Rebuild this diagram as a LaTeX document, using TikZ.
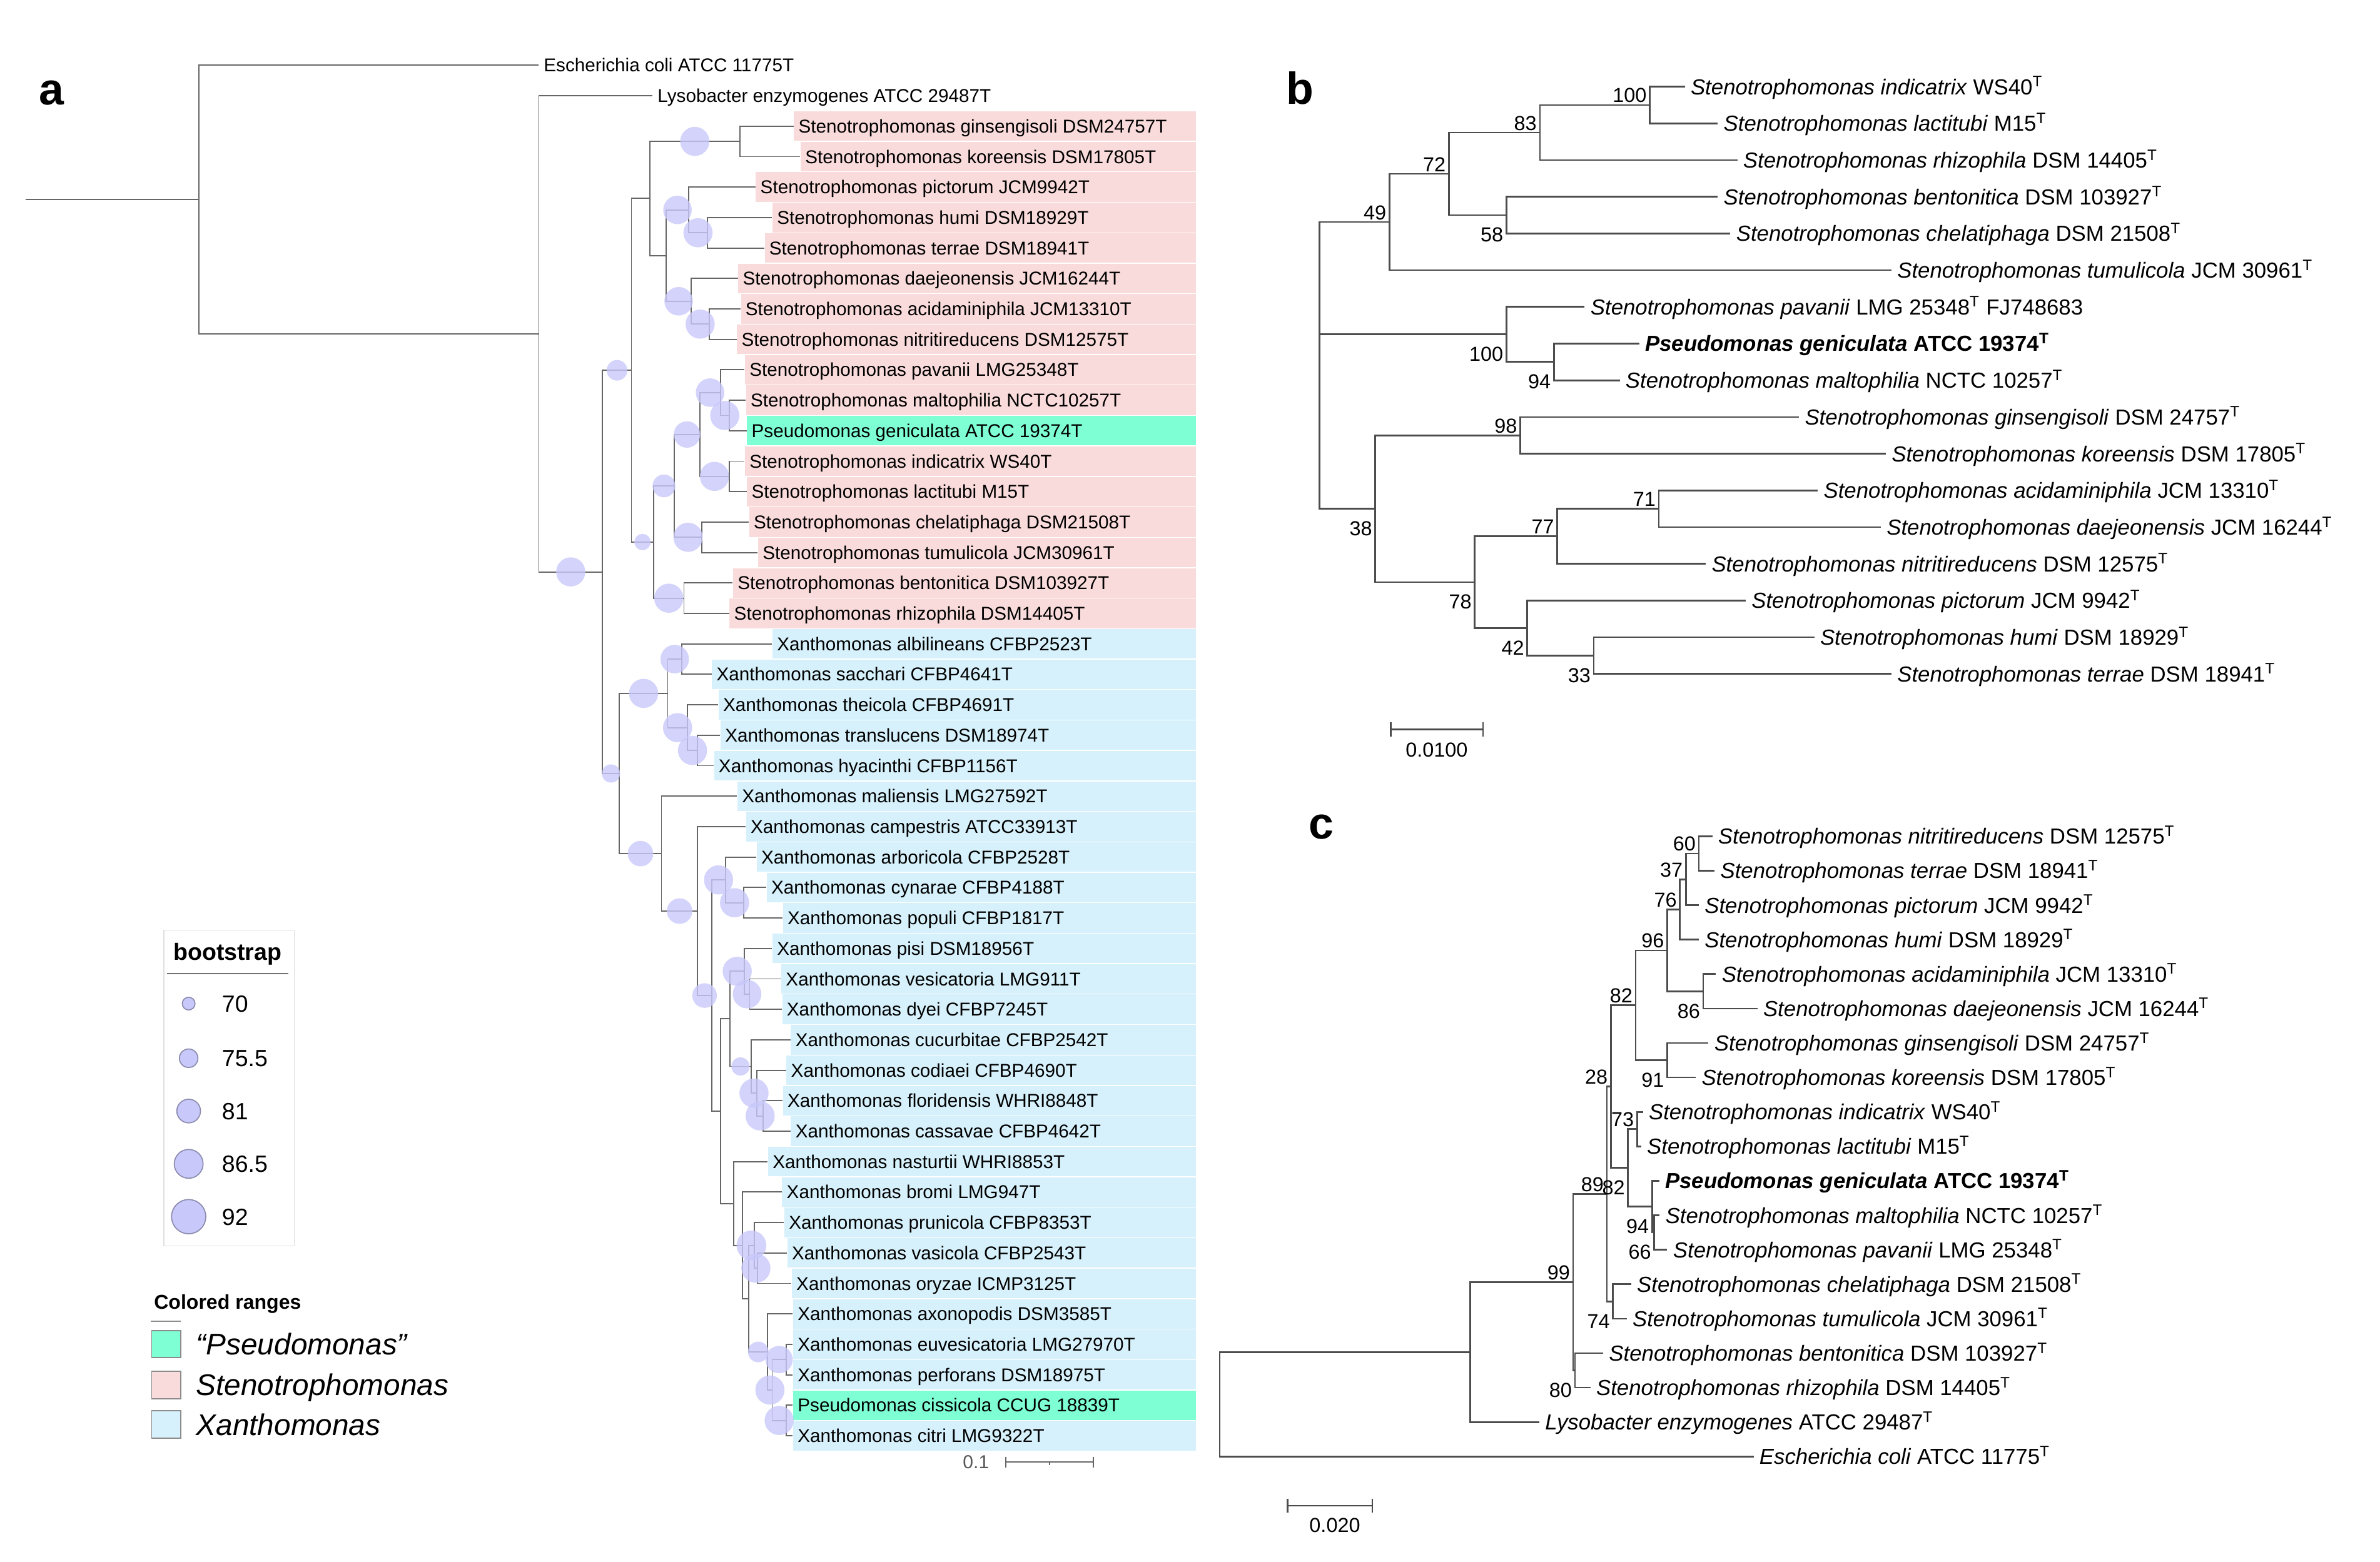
\documentclass[tikz,border=0pt]{standalone}
\usepackage{fontspec}
\setmainfont{Liberation Sans}
\usepackage{tikz}
\usetikzlibrary{calc}
\definecolor{stenopink}{RGB}{250,219,219}
\definecolor{xanthoblue}{RGB}{214,241,251}
\definecolor{pseudogreen}{RGB}{127,255,212}
\definecolor{bootfill}{RGB}{200,200,250}
\definecolor{bootline}{RGB}{140,140,175}
\tikzstyle{branch} = [draw=black!60, line width=0.55pt]
\tikzstyle{branchbc} = [draw=black!70, line width=0.8pt]
\tikzstyle{taxa} = [anchor=west, inner xsep=0.75mm, inner ysep=0pt,
    text height=6.2pt, text depth=0pt, font=\fontsize{8.7}{10}\selectfont]
\tikzstyle{taxbc} = [anchor=west, inner xsep=0.9mm, inner ysep=0pt,
    text height=7.3pt, text depth=0pt, font=\fontsize{10.2}{12}\selectfont]
\tikzstyle{bsnum} = [anchor=east, inner xsep=1.3pt, inner ysep=0pt,
    text height=6.8pt, text depth=0pt, font=\fontsize{9.5}{11}\selectfont]
\tikzstyle{bsup} = [bsnum, yshift=1.6mm]
\tikzstyle{bsdn} = [bsnum, yshift=-3.2mm]
\tikzstyle{bsdot} = [fill=bootfill, fill opacity=0.8]
\tikzstyle{rangebox} = [draw=white, line width=0.4pt]
\tikzstyle{panel} = [anchor=base, inner sep=0pt, font=\bfseries\fontsize{21}{24}\selectfont]
\tikzstyle{scaletxt} = [inner sep=0pt, font=\fontsize{9.5}{11}\selectfont]
\tikzstyle{legnum} = [anchor=west, inner sep=0pt, text height=7.9pt, text depth=0pt,
    font=\fontsize{11}{13}\selectfont]
\tikzstyle{legrange} = [anchor=west, inner sep=0pt, text height=10pt, text depth=0pt,
    font=\itshape\fontsize{14}{16}\selectfont]
\newcommand{\steno}[1]{\textit{Stenotrophomonas #1}}
% leaf of tree a: name, tip x, row, range colour, label
\newcommand{\leafa}[5]{%
  \filldraw[rangebox, fill=#4] (#2,{43+20.07*#3-10.035}) rectangle (788,{43+20.07*#3+10.035});
  \node[taxa] (#1) at (#2,{43+20.07*#3}) {#5};}
\newcommand{\leafb}[4]{\node[taxbc] (#1) at (#2,{57.1+24.19*#3}) {#4};}
\newcommand{\leafc}[4]{\node[taxbc] (#1) at (#2,{551.1+22.71*#3}) {#4};}
% bootstrap dot half way along the branch parent -> child
\newcommand{\bsdot}[3]{\fill[bsdot] ($(#1 |- #2)!0.5!(#2)$) circle [radius=#3*0.25mm];}

\begin{document}
\begin{tikzpicture}[x=0.25mm, y=-0.25mm]
    \useasboundingbox (0,0) rectangle (1568,1029.4);
    \node[panel] (la) at (34.1,68.9) {a};
    \node[panel] (lb) at (856.3,68.8) {b};
    \node[panel] (lc) at (870.5,552.7) {c};

    % ---------------- tree a ----------------
    % Place nodes
    \node[taxa] (aEcol) at (355,43) {Escherichia coli ATCC 11775T};
    \node[taxa] (aLyso) at (430,63.07) {Lysobacter enzymogenes ATCC 29487T};
    \leafa{aGins}{522.8}{2}{stenopink}{Stenotrophomonas ginsengisoli DSM24757T}
    \leafa{aKore}{527.2}{3}{stenopink}{Stenotrophomonas koreensis DSM17805T}
    \leafa{aPict}{497.7}{4}{stenopink}{Stenotrophomonas pictorum JCM9942T}
    \leafa{aHumi}{508.7}{5}{stenopink}{Stenotrophomonas humi DSM18929T}
    \leafa{aTerr}{503.5}{6}{stenopink}{Stenotrophomonas terrae DSM18941T}
    \leafa{aDaej}{486.1}{7}{stenopink}{Stenotrophomonas daejeonensis JCM16244T}
    \leafa{aAcid}{487.9}{8}{stenopink}{Stenotrophomonas acidaminiphila JCM13310T}
    \leafa{aNitr}{485.3}{9}{stenopink}{Stenotrophomonas nitritireducens DSM12575T}
    \leafa{aPava}{490.5}{10}{stenopink}{Stenotrophomonas pavanii LMG25348T}
    \leafa{aMalt}{491.3}{11}{stenopink}{Stenotrophomonas maltophilia NCTC10257T}
    \leafa{aGeni}{491.9}{12}{pseudogreen}{Pseudomonas geniculata ATCC 19374T}
    \leafa{aIndi}{490.5}{13}{stenopink}{Stenotrophomonas indicatrix WS40T}
    \leafa{aLact}{491.9}{14}{stenopink}{Stenotrophomonas lactitubi M15T}
    \leafa{aChel}{493.3}{15}{stenopink}{Stenotrophomonas chelatiphaga DSM21508T}
    \leafa{aTumu}{499.2}{16}{stenopink}{Stenotrophomonas tumulicola JCM30961T}
    \leafa{aBent}{482.7}{17}{stenopink}{Stenotrophomonas bentonitica DSM103927T}
    \leafa{aRhiz}{480.4}{18}{stenopink}{Stenotrophomonas rhizophila DSM14405T}
    \leafa{aAlbi}{508.7}{19}{xanthoblue}{Xanthomonas albilineans CFBP2523T}
    \leafa{aSacc}{468.8}{20}{xanthoblue}{Xanthomonas sacchari CFBP4641T}
    \leafa{aThei}{473.1}{21}{xanthoblue}{Xanthomonas theicola CFBP4691T}
    \leafa{aTran}{474.5}{22}{xanthoblue}{Xanthomonas translucens DSM18974T}
    \leafa{aHyac}{470.2}{23}{xanthoblue}{Xanthomonas hyacinthi CFBP1156T}
    \leafa{aMali}{485.6}{24}{xanthoblue}{Xanthomonas maliensis LMG27592T}
    \leafa{aCamp}{491.3}{25}{xanthoblue}{Xanthomonas campestris ATCC33913T}
    \leafa{aArbo}{498.3}{26}{xanthoblue}{Xanthomonas arboricola CFBP2528T}
    \leafa{aCyna}{504.9}{27}{xanthoblue}{Xanthomonas cynarae CFBP4188T}
    \leafa{aPopu}{515.6}{28}{xanthoblue}{Xanthomonas populi CFBP1817T}
    \leafa{aPisi}{508.7}{29}{xanthoblue}{Xanthomonas pisi DSM18956T}
    \leafa{aVesi}{514.5}{30}{xanthoblue}{Xanthomonas vesicatoria LMG911T}
    \leafa{aDyei}{515.1}{31}{xanthoblue}{Xanthomonas dyei CFBP7245T}
    \leafa{aCucu}{520.8}{32}{xanthoblue}{Xanthomonas cucurbitae CFBP2542T}
    \leafa{aCodi}{517.9}{33}{xanthoblue}{Xanthomonas codiaei CFBP4690T}
    \leafa{aFlor}{515.6}{34}{xanthoblue}{Xanthomonas floridensis WHRI8848T}
    \leafa{aCass}{520.8}{35}{xanthoblue}{Xanthomonas cassavae CFBP4642T}
    \leafa{aNast}{505.8}{36}{xanthoblue}{Xanthomonas nasturtii WHRI8853T}
    \leafa{aBrom}{515}{37}{xanthoblue}{Xanthomonas bromi LMG947T}
    \leafa{aPrun}{516.5}{38}{xanthoblue}{Xanthomonas prunicola CFBP8353T}
    \leafa{aVasi}{518.5}{39}{xanthoblue}{Xanthomonas vasicola CFBP2543T}
    \leafa{aOryz}{521.4}{40}{xanthoblue}{Xanthomonas oryzae ICMP3125T}
    \leafa{aAxon}{522.3}{41}{xanthoblue}{Xanthomonas axonopodis DSM3585T}
    \leafa{aEuve}{522.3}{42}{xanthoblue}{Xanthomonas euvesicatoria LMG27970T}
    \leafa{aPerf}{522.3}{43}{xanthoblue}{Xanthomonas perforans DSM18975T}
    \leafa{aCiss}{522.3}{44}{pseudogreen}{Pseudomonas cissicola CCUG 18839T}
    \leafa{aCitr}{522.3}{45}{xanthoblue}{Xanthomonas citri LMG9322T}
    \coordinate (aStub) at (17,131.49);
    \coordinate (aRoot) at (131,131.49);
    \coordinate (aN1) at (355,219.98);
    \coordinate (aN2) at (397,376.89);
    \coordinate (aSt) at (416,244.02);
    \coordinate (aS1) at (428,130.81);
    \coordinate (aS11) at (487.5,93.18);
    \coordinate (aS12) at (439,168.44);
    \coordinate (aS121) at (453.7,138.33);
    \coordinate (aS1211) at (466,153.39);
    \coordinate (aS122) at (455.2,198.54);
    \coordinate (aS1221) at (467.3,213.6);
    \coordinate (aS2) at (430.6,357.22);
    \coordinate (aS21) at (444.2,320.22);
    \coordinate (aS211) at (461,286.35);
    \coordinate (aS2111) at (474.6,258.75);
    \coordinate (aS21111) at (480.4,273.81);
    \coordinate (aS2112) at (480.4,313.95);
    \coordinate (aS212) at (462.4,354.09);
    \coordinate (aS22) at (450.6,394.23);
    \coordinate (aXa) at (408.1,509.75);
    \coordinate (aX1) at (439.9,456.95);
    \coordinate (aX11) at (449.1,434.37);
    \coordinate (aX12) at (452.9,479.53);
    \coordinate (aX121) at (459.6,494.58);
    \coordinate (aX2) at (435.8,562.55);
    \coordinate (aX22) at (459.6,600.42);
    \coordinate (aX222) at (468.8,656.09);
    \coordinate (aX2221) at (478,579.88);
    \coordinate (aX22211) at (489.9,594.93);
    \coordinate (aX2222) at (474.6,732.29);
    \coordinate (aXp) at (480.9,671.45);
    \coordinate (aXp1) at (490.5,640.09);
    \coordinate (aXp11) at (493.9,655.14);
    \coordinate (aXp2) at (494.8,702.81);
    \coordinate (aXp21) at (498.7,720.37);
    \coordinate (aXp211) at (502.9,735.42);
    \coordinate (aXq) at (483.2,793.12);
    \coordinate (aXq2) at (489,820.72);
    \coordinate (aXq22) at (493.3,855.84);
    \coordinate (aXq221) at (496.8,820.72);
    \coordinate (aXq2211) at (499.2,835.77);
    \coordinate (aXq222) at (505.8,890.96);
    \coordinate (aXq2222) at (508.7,916.05);
    \coordinate (aXq22221) at (517.9,895.98);
    \coordinate (aXq22222) at (517.9,936.12);
    % Draw edges
    \draw[branch] (aStub) -- (aRoot);
    \draw[branch] (aEcol.west) -| (aRoot) |- (aN1);
    \draw[branch] (aLyso.west) -| (aN1) |- (aN2);
    \draw[branch] (aSt) -| (aN2) |- (aXa);
    \draw[branch] (aS1) -| (aSt) |- (aS2);
    \draw[branch] (aS11) -| (aS1) |- (aS12);
    \draw[branch] (aGins.west) -| (aS11) |- (aKore.west);
    \draw[branch] (aS121) -| (aS12) |- (aS122);
    \draw[branch] (aPict.west) -| (aS121) |- (aS1211);
    \draw[branch] (aHumi.west) -| (aS1211) |- (aTerr.west);
    \draw[branch] (aDaej.west) -| (aS122) |- (aS1221);
    \draw[branch] (aAcid.west) -| (aS1221) |- (aNitr.west);
    \draw[branch] (aS21) -| (aS2) |- (aS22);
    \draw[branch] (aS211) -| (aS21) |- (aS212);
    \draw[branch] (aS2111) -| (aS211) |- (aS2112);
    \draw[branch] (aPava.west) -| (aS2111) |- (aS21111);
    \draw[branch] (aMalt.west) -| (aS21111) |- (aGeni.west);
    \draw[branch] (aIndi.west) -| (aS2112) |- (aLact.west);
    \draw[branch] (aChel.west) -| (aS212) |- (aTumu.west);
    \draw[branch] (aBent.west) -| (aS22) |- (aRhiz.west);
    \draw[branch] (aX1) -| (aXa) |- (aX2);
    \draw[branch] (aX11) -| (aX1) |- (aX12);
    \draw[branch] (aAlbi.west) -| (aX11) |- (aSacc.west);
    \draw[branch] (aThei.west) -| (aX12) |- (aX121);
    \draw[branch] (aTran.west) -| (aX121) |- (aHyac.west);
    \draw[branch] (aMali.west) -| (aX2) |- (aX22);
    \draw[branch] (aCamp.west) -| (aX22) |- (aX222);
    \draw[branch] (aX2221) -| (aX222) |- (aX2222);
    \draw[branch] (aArbo.west) -| (aX2221) |- (aX22211);
    \draw[branch] (aCyna.west) -| (aX22211) |- (aPopu.west);
    \draw[branch] (aXp) -| (aX2222) |- (aXq);
    \draw[branch] (aXp1) -| (aXp) |- (aXp2);
    \draw[branch] (aPisi.west) -| (aXp1) |- (aXp11);
    \draw[branch] (aVesi.west) -| (aXp11) |- (aDyei.west);
    \draw[branch] (aCucu.west) -| (aXp2) |- (aXp21);
    \draw[branch] (aCodi.west) -| (aXp21) |- (aXp211);
    \draw[branch] (aFlor.west) -| (aXp211) |- (aCass.west);
    \draw[branch] (aNast.west) -| (aXq) |- (aXq2);
    \draw[branch] (aBrom.west) -| (aXq2) |- (aXq22);
    \draw[branch] (aXq221) -| (aXq22) |- (aXq222);
    \draw[branch] (aPrun.west) -| (aXq221) |- (aXq2211);
    \draw[branch] (aVasi.west) -| (aXq2211) |- (aOryz.west);
    \draw[branch] (aAxon.west) -| (aXq222) |- (aXq2222);
    \draw[branch] (aXq22221) -| (aXq2222) |- (aXq22222);
    \draw[branch] (aEuve.west) -| (aXq22221) |- (aPerf.west);
    \draw[branch] (aCiss.west) -| (aXq22222) |- (aCitr.west);
    % bootstrap dots
    \bsdot{aN1}{aN2}{9.6}
    \bsdot{aN2}{aSt}{6.8}
    \bsdot{aS1}{aS11}{9.6}
    \bsdot{aS12}{aS121}{9.4}
    \bsdot{aS121}{aS1211}{9.6}
    \bsdot{aS12}{aS122}{9.4}
    \bsdot{aS122}{aS1221}{9.6}
    \bsdot{aSt}{aS2}{5.4}
    \bsdot{aS2}{aS21}{7.5}
    \bsdot{aS21}{aS211}{8.7}
    \bsdot{aS211}{aS2111}{9.4}
    \bsdot{aS2111}{aS21111}{9.6}
    \bsdot{aS211}{aS2112}{9.6}
    \bsdot{aS21}{aS212}{9.6}
    \bsdot{aS2}{aS22}{9.6}
    \bsdot{aN2}{aXa}{6}
    \bsdot{aXa}{aX1}{9.6}
    \bsdot{aX1}{aX11}{9.4}
    \bsdot{aX1}{aX12}{9.6}
    \bsdot{aX12}{aX121}{9.6}
    \bsdot{aXa}{aX2}{8.4}
    \bsdot{aX2}{aX22}{8.4}
    \bsdot{aX22}{aX222}{8.1}
    \bsdot{aX222}{aX2221}{9.6}
    \bsdot{aX2221}{aX22211}{9.6}
    \bsdot{aXp}{aXp1}{9.6}
    \bsdot{aXp1}{aXp11}{9.4}
    \bsdot{aXp}{aXp2}{6}
    \bsdot{aXp2}{aXp21}{9.6}
    \bsdot{aXp21}{aXp211}{9.6}
    \bsdot{aXq22}{aXq221}{9.8}
    \bsdot{aXq221}{aXq2211}{9.6}
    \bsdot{aXq22}{aXq222}{6.8}
    \bsdot{aXq222}{aXq2222}{9.6}
    \bsdot{aXq2222}{aXq22221}{9}
    \bsdot{aXq2222}{aXq22222}{9.6}
    % scale bar a
    \node[scaletxt, text=black!65, font=\fontsize{8.8}{10}\selectfont] (aScale) at (643,963.6) {0.1};
    \draw[black!60, line width=0.6pt] (662.8,963.6) -- (720.4,963.6)
        (662.8,960) -- (662.8,967.2) (720.4,960) -- (720.4,967.2)
        (691.6,963.6) -- (691.6,965.6);

    % legends of a
    \draw[black!12, line width=0.4pt] (108,613) rectangle (194,821);
    \node[anchor=base west, inner sep=0pt, font=\bfseries\fontsize{11}{13}\selectfont] (bsTitle) at (114,632.6) {bootstrap};
    \draw[black!55, line width=0.5pt] (110,641.7) -- (190,641.7);
    \foreach \yy/\rr/\vv in {661.4/4.2/70, 697.4/6.1/75.5, 732.2/7.8/81, 767/9.5/86.5, 801.8/11.3/92}{
        \filldraw[fill=bootfill, draw=bootline, line width=0.5pt] (124.3,\yy) circle [radius=\rr*0.25mm];
        \node[legnum] at (146,\yy) {\vv};
    }
    \node[anchor=base west, inner sep=0pt, font=\bfseries\fontsize{9.4}{11}\selectfont] (crTitle) at (101.2,862.9) {Colored ranges};
    \draw[black!45, line width=0.5pt] (99.5,870.7) -- (119,870.7);
    \filldraw[fill=pseudogreen, draw=black!45, line width=0.5pt] (99.9,876.9) rectangle (119.1,894.6);
    \filldraw[fill=stenopink, draw=black!45, line width=0.5pt] (99.9,903.6) rectangle (119.1,921.7);
    \filldraw[fill=xanthoblue, draw=black!45, line width=0.5pt] (99.9,929.8) rectangle (119.1,947.9);
    \node[legrange] (crPseu) at (129,885.7) {``Pseudomonas''};
    \node[legrange] (crSten) at (129,912.6) {Stenotrophomonas};
    \node[legrange] (crXant) at (129,938.9) {Xanthomonas};

    % ---------------- tree b ----------------
    % Place nodes
    \leafb{bIndi}{1110}{0}{\steno{indicatrix} WS40\textsuperscript{T}}
    \leafb{bLact}{1131.7}{1}{\steno{lactitubi} M15\textsuperscript{T}}
    \leafb{bRhiz}{1144.6}{2}{\steno{rhizophila} DSM 14405\textsuperscript{T}}
    \leafb{bBent}{1131.7}{3}{\steno{bentonitica} DSM 103927\textsuperscript{T}}
    \leafb{bChel}{1140}{4}{\steno{chelatiphaga} DSM 21508\textsuperscript{T}}
    \leafb{bTumu}{1246.1}{5}{\steno{tumulicola} JCM 30961\textsuperscript{T}}
    \leafb{bPava}{1044}{6}{\steno{pavanii} LMG 25348\textsuperscript{T} FJ748683}
    \leafb{bGeni}{1080}{7}{\textbf{\textit{Pseudomonas geniculata} ATCC 19374\textsuperscript{T}}}
    \leafb{bMalt}{1067.1}{8}{\steno{maltophilia} NCTC 10257\textsuperscript{T}}
    \leafb{bGins}{1185.2}{9}{\steno{ginsengisoli} DSM 24757\textsuperscript{T}}
    \leafb{bKore}{1242.4}{10}{\steno{koreensis} DSM 17805\textsuperscript{T}}
    \leafb{bAcid}{1197.6}{11}{\steno{acidaminiphila} JCM 13310\textsuperscript{T}}
    \leafb{bDaej}{1239.1}{12}{\steno{daejeonensis} JCM 16244\textsuperscript{T}}
    \leafb{bNitr}{1123.8}{13}{\steno{nitritireducens} DSM 12575\textsuperscript{T}}
    \leafb{bPict}{1150.1}{14}{\steno{pictorum} JCM 9942\textsuperscript{T}}
    \leafb{bHumi}{1195.3}{15}{\steno{humi} DSM 18929\textsuperscript{T}}
    \leafb{bTerr}{1246.1}{16}{\steno{terrae} DSM 18941\textsuperscript{T}}
    \coordinate (bRoot) at (869.2,220.38);
    \coordinate (b49) at (915.4,146.3);
    \coordinate (b72) at (954.5,114.55);
    \coordinate (b83) at (1014.5,87.34);
    \coordinate (b100a) at (1086.9,69.2);
    \coordinate (b58) at (992.4,141.77);
    \coordinate (b100b) at (992.4,220.38);
    \coordinate (b94) at (1023.7,238.53);
    \coordinate (b38) at (906.1,335.28);
    \coordinate (b98) at (1001.6,286.9);
    \coordinate (b78) at (971.6,383.67);
    \coordinate (b77) at (1026,353.43);
    \coordinate (b71) at (1092.9,335.29);
    \coordinate (b42) at (1006.2,413.9);
    \coordinate (b33) at (1050,432.05);
    % Draw edges
    \draw[branchbc] (b49) -| (bRoot) |- (b38);
    \draw[branchbc] (bRoot) -- (b100b);
    \draw[branchbc] (b72) -| (b49) |- (bTumu.west);
    \draw[branchbc] (b83) -| (b72) |- (b58);
    \draw[branchbc] (b100a) -| (b83) |- (bRhiz.west);
    \draw[branchbc] (bIndi.west) -| (b100a) |- (bLact.west);
    \draw[branchbc] (bBent.west) -| (b58) |- (bChel.west);
    \draw[branchbc] (bPava.west) -| (b100b) |- (b94);
    \draw[branchbc] (bGeni.west) -| (b94) |- (bMalt.west);
    \draw[branchbc] (b98) -| (b38) |- (b78);
    \draw[branchbc] (bGins.west) -| (b98) |- (bKore.west);
    \draw[branchbc] (b77) -| (b78) |- (b42);
    \draw[branchbc] (b71) -| (b77) |- (bNitr.west);
    \draw[branchbc] (bAcid.west) -| (b71) |- (bDaej.west);
    \draw[branchbc] (bPict.west) -| (b42) |- (b33);
    \draw[branchbc] (bHumi.west) -| (b33) |- (bTerr.west);
    % bootstrap values
    \node[bsup] at (b100a) {100};
    \node[bsup] at (b83) {83};
    \node[bsup] at (b72) {72};
    \node[bsup] at (b49) {49};
    \node[bsdn] at (b58) {58};
    \node[bsdn] at (b100b) {100};
    \node[bsdn] at (b94) {94};
    \node[bsup] at (b98) {98};
    \node[bsdn] at (b38) {38};
    \node[bsup] at (b71) {71};
    \node[bsup] at (b77) {77};
    \node[bsdn] at (b78) {78};
    \node[bsdn] at (b42) {42};
    \node[bsdn] at (b33) {33};
    % scale bar b
    \draw[branchbc] (916.3,476) -- (916.3,485.6) (916.3,480.8) -- (977.1,480.8) (977.1,476) -- (977.1,485.6);
    \node[scaletxt] (bScale) at (946.5,494.1) {0.0100};

    % ---------------- tree c ----------------
    % Place nodes
    \leafc{cNitr}{1128.1}{0}{\steno{nitritireducens} DSM 12575\textsuperscript{T}}
    \leafc{cTerr}{1129.6}{1}{\steno{terrae} DSM 18941\textsuperscript{T}}
    \leafc{cPict}{1119.2}{2}{\steno{pictorum} JCM 9942\textsuperscript{T}}
    \leafc{cHumi}{1119.2}{3}{\steno{humi} DSM 18929\textsuperscript{T}}
    \leafc{cAcid}{1130.5}{4}{\steno{acidaminiphila} JCM 13310\textsuperscript{T}}
    \leafc{cDaej}{1157.8}{5}{\steno{daejeonensis} JCM 16244\textsuperscript{T}}
    \leafc{cGins}{1125.6}{6}{\steno{ginsengisoli} DSM 24757\textsuperscript{T}}
    \leafc{cKore}{1117.2}{7}{\steno{koreensis} DSM 17805\textsuperscript{T}}
    \leafc{cIndi}{1082.4}{8}{\steno{indicatrix} WS40\textsuperscript{T}}
    \leafc{cLact}{1081.2}{9}{\steno{lactitubi} M15\textsuperscript{T}}
    \leafc{cGeni}{1093.2}{10}{\textbf{\textit{Pseudomonas geniculata} ATCC 19374\textsuperscript{T}}}
    \leafc{cMalt}{1093.4}{11}{\steno{maltophilia} NCTC 10257\textsuperscript{T}}
    \leafc{cPava}{1098.4}{12}{\steno{pavanii} LMG 25348\textsuperscript{T}}
    \leafc{cChel}{1074.6}{13}{\steno{chelatiphaga} DSM 21508\textsuperscript{T}}
    \leafc{cTumu}{1071.7}{14}{\steno{tumulicola} JCM 30961\textsuperscript{T}}
    \leafc{cBent}{1056.2}{15}{\steno{bentonitica} DSM 103927\textsuperscript{T}}
    \leafc{cRhiz}{1047.8}{16}{\steno{rhizophila} DSM 14405\textsuperscript{T}}
    \leafc{cLyso}{1014.1}{17}{\textit{Lysobacter enzymogenes} ATCC 29487\textsuperscript{T}}
    \leafc{cEcol}{1155.3}{18}{\textit{Escherichia coli} ATCC 11775\textsuperscript{T}}
    \coordinate (cRoot) at (803.6,925.49);
    \coordinate (cL) at (968.6,891.09);
    \coordinate (c99) at (1036.4,845);
    \coordinate (c89) at (1058.7,786.9);
    \coordinate (c28) at (1061.2,716.1);
    \coordinate (c82a) at (1077.6,662.52);
    \coordinate (c96) at (1098.4,626.33);
    \coordinate (c76) at (1106.8,599.36);
    \coordinate (c37) at (1110.7,579.49);
    \coordinate (c60) at (1119.2,562.46);
    \coordinate (c86) at (1122.1,653.3);
    \coordinate (c91) at (1098.4,698.72);
    \coordinate (c82b) at (1072.6,769.69);
    \coordinate (c73) at (1078.5,744.14);
    \coordinate (c94) at (1088.4,795.24);
    \coordinate (c66) at (1089.9,812.27);
    \coordinate (c74) at (1062.7,857.69);
    \coordinate (c80) at (1037.6,903.1);
    % Draw edges
    \draw[branchbc] (cL) -| (cRoot) |- (cEcol.west);
    \draw[branchbc] (c99) -| (cL) |- (cLyso.west);
    \draw[branchbc] (c89) -| (c99) |- (c80);
    \draw[branchbc] (c28) -| (c89) |- (c74);
    \draw[branchbc] (c82a) -| (c28) |- (c82b);
    \draw[branchbc] (c96) -| (c82a) |- (c91);
    \draw[branchbc] (c76) -| (c96) |- (c86);
    \draw[branchbc] (c37) -| (c76) |- (cHumi.west);
    \draw[branchbc] (c60) -| (c37) |- (cPict.west);
    \draw[branchbc] (cNitr.west) -| (c60) |- (cTerr.west);
    \draw[branchbc] (cAcid.west) -| (c86) |- (cDaej.west);
    \draw[branchbc] (cGins.west) -| (c91) |- (cKore.west);
    \draw[branchbc] (c73) -| (c82b) |- (c94);
    \draw[branchbc] (cIndi.west) -| (c73) |- (cLact.west);
    \draw[branchbc] (cGeni.west) -| (c94) |- (c66);
    \draw[branchbc] (cMalt.west) -| (c66) |- (cPava.west);
    \draw[branchbc] (cChel.west) -| (c74) |- (cTumu.west);
    \draw[branchbc] (cBent.west) -| (c80) |- (cRhiz.west);
    % bootstrap values
    \node[bsup] at (c60) {60};
    \node[bsup] at (c37) {37};
    \node[bsup] at (c76) {76};
    \node[bsup] at (c96) {96};
    \node[bsdn] at (c86) {86};
    \node[bsup] at (c82a) {82};
    \node[bsdn] at (c91) {91};
    \node[bsup] at (c28) {28};
    \node[bsup] at (c73) {73};
    \node[bsup] at (c89) {89};
    \node[bsdn] at (c82b) {82};
    \node[bsdn] at (c94) {94};
    \node[bsdn] at (c66) {66};
    \node[bsup] at (c99) {99};
    \node[bsdn] at (c74) {74};
    \node[bsdn] at (c80) {80};
    % scale bar c
    \draw[branchbc] (848.2,987.6) -- (848.2,997) (848.2,992.3) -- (904.1,992.3) (904.1,987.6) -- (904.1,997);
    \node[scaletxt] (cScale) at (879.4,1005.2) {0.020};
\end{tikzpicture}
\end{document}
